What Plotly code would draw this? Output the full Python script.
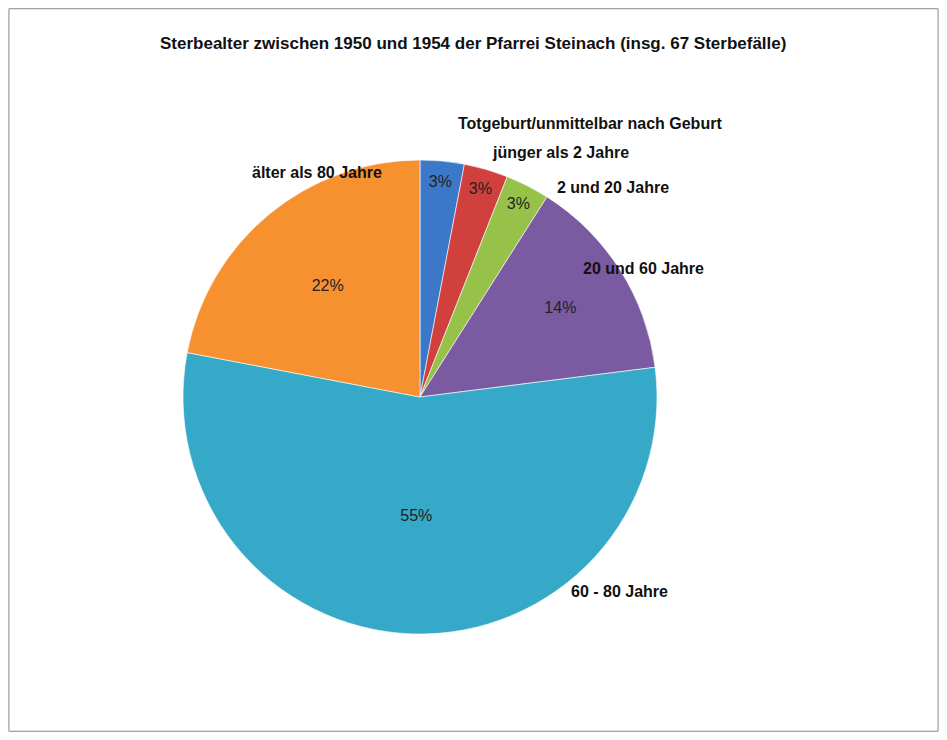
import plotly.graph_objects as go

categories = ["Totgeburt/unmittelbar nach Geburt", "jünger als 2 Jahre", "2 und 20 Jahre",
              "20 und 60 Jahre", "60 - 80 Jahre", "älter als 80 Jahre"]
percent = [3, 3, 3, 14, 55, 22]
colors = ["#3c78c8", "#d0403c", "#97c24a", "#7a5aa0", "#36a8c8", "#f7902e"]

W, H = 931, 724
OFF = 8
label_pos = [(590, 113), (560, 142), (613, 177), (706, 269), (670, 602), (250, 162)]

cx, cy, r = 420 - OFF, 397 - OFF, 237
fig = go.Figure(go.Pie(
    labels=categories, values=percent, sort=False, direction="clockwise", rotation=0,
    marker=dict(colors=colors, line=dict(color="rgba(255,255,255,0.6)", width=1)),
    textinfo="percent", texttemplate="%{value}%", textposition="inside",
    insidetextorientation="horizontal",
    textfont=dict(family="Liberation Sans", size=16, color="#222"),
    domain=dict(x=[(cx - r) / W, (cx + r) / W], y=[1 - (cy + r) / H, 1 - (cy - r) / H]),
    showlegend=False, hoverinfo="label+percent",
))

ann = [dict(x=(x - OFF) / W, y=1 - (y - OFF) / H, xref="paper", yref="paper", text=f"<b>{c}</b>",
            showarrow=False, font=dict(family="Liberation Sans", size=16, color="#111"))
       for c, (x, y) in zip(categories, label_pos)]
ann.append(dict(x=(473 - OFF) / W, y=1 - (32 - OFF) / H, xref="paper", yref="paper",
                text="<b>Sterbealter zwischen 1950 und 1954 der Pfarrei Steinach (insg. 67 Sterbefälle)</b>",
                showarrow=False, font=dict(family="Liberation Sans", size=17, color="#111")))

fig.update_layout(
    width=W, height=H, margin=dict(l=0, r=0, t=0, b=0),
    paper_bgcolor="white", plot_bgcolor="white", annotations=ann,
    shapes=[dict(type="rect", xref="paper", yref="paper", x0=0.001, y0=0.001, x1=0.999, y1=0.999,
                 line=dict(color="#888", width=1))],
)
fig.write_html("out.html")
